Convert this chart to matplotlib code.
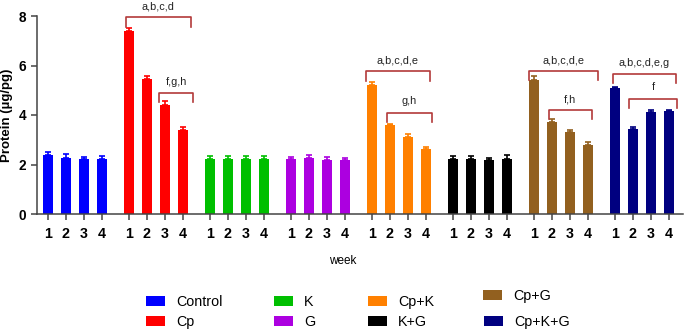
import matplotlib
matplotlib.use("Agg")
import matplotlib.pyplot as plt
from matplotlib.patches import Patch

plt.rcParams['font.family'] = ['Liberation Sans', 'DejaVu Sans']

groups = ["Control", "Cp", "K", "G", "Cp+K", "K+G", "Cp+G", "Cp+K+G"]
weeks = ["1", "2", "3", "4"]
colors = ["#0000ff", "#ff0000", "#00bf00", "#ac00e0", "#ff8000", "#000000", "#92601f", "#000080"]

means = {
    "Control": [2.39, 2.27, 2.22, 2.24],
    "Cp":      [7.39, 5.46, 4.41, 3.40],
    "K":       [2.22, 2.23, 2.22, 2.22],
    "G":       [2.24, 2.27, 2.19, 2.18],
    "Cp+K":    [5.21, 3.60, 3.13, 2.63],
    "K+G":     [2.22, 2.22, 2.18, 2.22],
    "Cp+G":    [5.42, 3.71, 3.31, 2.80],
    "Cp+K+G":  [5.08, 3.45, 4.13, 4.18],
}
errors = {
    "Control": [0.11, 0.16, 0.08, 0.09],
    "Cp":      [0.13, 0.13, 0.17, 0.12],
    "K":       [0.13, 0.10, 0.12, 0.12],
    "G":       [0.05, 0.10, 0.10, 0.08],
    "Cp+K":    [0.12, 0.04, 0.12, 0.08],
    "K+G":     [0.12, 0.12, 0.08, 0.15],
    "Cp+G":    [0.15, 0.11, 0.09, 0.12],
    "Cp+K+G":  [0.04, 0.08, 0.07, 0.04],
}

# significance brackets: (x_left, x_right, y_top, y_leg_left, y_leg_right, label, y_label)
brackets = [
    (4.33, 7.94, 7.94, 7.54, 7.54, "a,b,c,d", 8.4),
    (6.17, 8.06, 4.90, 4.54, 4.54, "f,g,h", 5.35),
    (17.67, 21.22, 5.77, 5.36, 5.36, "a,b,c,d,e", 6.2),
    (18.83, 21.33, 4.10, 3.70, 3.70, "g,h", 4.57),
    (26.72, 30.56, 5.77, 5.42, 5.40, "a,b,c,d,e", 6.22),
    (27.83, 30.22, 4.21, 3.83, 3.83, "f,h", 4.64),
    (31.39, 34.89, 5.66, 5.28, 5.28, "a,b,c,d,e,g", 6.12),
    (32.28, 34.94, 4.65, 4.27, 4.27, "f", 5.12),
]

# legend entry anchor positions (pixels from top-left): patch left x, centre y
legend_pos = {
    "Control": (146, 302), "Cp": (146, 322),
    "K": (274, 302), "G": (274, 322),
    "Cp+K": (368, 302), "K+G": (368, 322),
    "Cp+G": (483, 296), "Cp+K+G": (484, 322),
}

W, H = 685, 332
fig = plt.figure(figsize=(6.85, 3.32), dpi=100)
ax = fig.add_axes([37 / W, 1 - 214 / H, (683 - 37) / W, (214 - 16) / H])

group_step = 4.5
bar_w = 0.52
xticks, xlabels, handles = [], [], []
for g, name in enumerate(groups):
    xs = [g * group_step + i for i in range(len(weeks))]
    ax.bar(xs, means[name], width=bar_w, color=colors[g], zorder=2)
    ax.errorbar(xs, means[name], yerr=[[0] * 4, errors[name]], fmt='none',
                ecolor=colors[g], elinewidth=1.2, capsize=2.5, capthick=1.2, zorder=3)
    xticks += xs
    xlabels += weeks
    handles.append(Patch(facecolor=colors[g], label=name))

br_color = "#b33a3a"
for (x0, x1, yt, yl, yr, lab, ytxt) in brackets:
    ax.plot([x0, x0, x1, x1], [yl, yt, yt, yr], color=br_color, lw=1.2, clip_on=False, zorder=4)
    ax.text((x0 + x1) / 2, ytxt, lab, ha='center', va='center', fontsize=7.8,
            color='#222222', clip_on=False)

ax.set_xlim(-0.61, 35.28)
ax.set_ylim(0, 8)
ax.set_yticks([0, 2, 4, 6, 8])
ax.set_xticks(xticks)
ax.set_xticklabels(xlabels, fontsize=10.3, fontweight='bold')
for lbl in ax.get_yticklabels():
    lbl.set_fontweight('bold')
    lbl.set_fontsize(9.8)
ax.tick_params(axis='both', direction='out', length=4.5, width=1.1, color='#444444')
ax.tick_params(axis='x', pad=5)
ax.spines['top'].set_visible(False)
ax.spines['right'].set_visible(False)
for s in ['left', 'bottom']:
    ax.spines[s].set_linewidth(1.1)
    ax.spines[s].set_color('#444444')

ax.set_ylabel("Protein (µg/pg)", fontsize=9.5, fontweight='bold', labelpad=4)
fig.text(0.5, 1 - 261 / H, "week", ha='center', va='center', fontsize=8.5)

for h in handles:
    px, py = legend_pos[h.get_label()]
    leg = fig.legend(handles=[h], loc='center left',
                     bbox_to_anchor=(px / W, 1 - py / H), frameon=False,
                     fontsize=10.3, handlelength=1.35, handleheight=0.7,
                     handletextpad=0.75, borderpad=0, borderaxespad=0)

fig.savefig("out.png", dpi=100)
